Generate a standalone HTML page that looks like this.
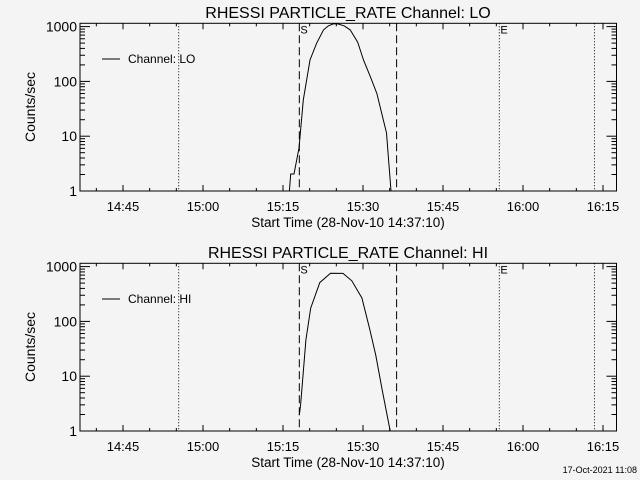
<!DOCTYPE html>
<html><head><meta charset="utf-8"><style>
body{margin:0;background:#f4f4f4;}
svg{display:block;font-family:"Liberation Sans",sans-serif;}
</style></head><body>
<svg id="c" width="640" height="480" xmlns="http://www.w3.org/2000/svg">
<rect width="640" height="480" fill="#f4f4f4"/>
<text x="637" y="473" font-size="9" text-anchor="end">17-Oct-2021 11:08</text>
</svg>
<script>
// minutes relative to 15:00
const xTickMinutes = [-15, 0, 15, 30, 45, 60, 75];
const xTickLabels = ["14:45", "15:00", "15:15", "15:30", "15:45", "16:00", "16:15"];
const yTickValues = [1, 10, 100, 1000];
const yTickLabels = ["1", "10", "100", "1000"];
const dottedMinutes = [-4.56, 55.56, 73.4];
const dashedMinutes = [18.06, 36.3];
const loTimes = [16.2, 16.45, 17.06, 18.0, 18.8, 20.06, 21.3, 22.6, 23.5, 24.4, 25.3, 26.5, 27.6, 29.0, 30.1, 31.4, 32.6, 34.4, 35.25];
const loValues = [1, 2.04, 2.04, 6.1, 46, 246, 495, 870, 1030, 1120, 1120, 1030, 870, 520, 246, 120, 60, 11.5, 1];
const hiTimes = [18.06, 18.3, 19.3, 20.2, 21.9, 23.9, 26.25, 27.9, 29.8, 31.3, 32.4, 33.6, 35.1];
const hiValues = [1.95, 3.0, 46, 175, 510, 755, 750, 550, 267, 70, 24, 5.6, 1];

const svg = document.getElementById('c');
const NS = 'http://www.w3.org/2000/svg';
const X0 = 80, X1 = 616.5;
function xs(m){ return 203 + m * 5.3333; }
function mk(tag, attrs, parent){
  const e = document.createElementNS(NS, tag);
  for (const k in attrs) e.setAttribute(k, attrs[k]);
  (parent || svg).appendChild(e);
  return e;
}
function panel(off, chan, times, values, nm){
  const top = 23.3 + off, bot = 191 + off;
  const ys = v => bot - Math.log10(v) * 54.8;
  const g = mk('g', {});
  
  
  const t = mk('text', {x: 348, y: 18 + off, 'font-size': 16, 'text-anchor': 'middle'}, g);
  t.textContent = 'RHESSI PARTICLE_RATE Channel: ' + chan;
  
  
  const fr = mk('rect', {x: X0, y: top, width: X1 - X0, height: bot - top, fill: 'none', stroke: '#000', 'stroke-width': 1}, g);
  
  
  for (let m = -20; m <= 75; m += 5){
    const x = xs(m); if (x < X0 || x > X1) continue;
    const major = m % 15 === 0, L = major ? 6 : 3;
    const a = mk('line', {x1: x, x2: x, y1: bot, y2: bot - L, stroke: '#000'}, g);
    
    
    const b = mk('line', {x1: x, x2: x, y1: top, y2: top + L, stroke: '#000'}, g);
    
    
  }
  xTickMinutes.forEach((m, i) => {
    const l = mk('text', {x: xs(m), y: 211 + off, 'font-size': 13, 'text-anchor': 'middle'}, g);
    l.textContent = xTickLabels[i];
    
    
  });
  const xt = mk('text', {x: 348, y: 227 + off, 'font-size': 13.5, 'text-anchor': 'middle'}, g);
  xt.textContent = 'Start Time (28-Nov-10 14:37:10)';
  
  
  for (let d = 1; d <= 1000; d *= 10){
    for (let k = 1; k <= 9; k++){
      const v = d * k, y = ys(v); if (y < top) continue;
      const L = k === 1 ? 10 : 5;
      const a = mk('line', {x1: X0, x2: X0 + L, y1: y, y2: y, stroke: '#000'}, g);
      
      
      const b = mk('line', {x1: X1, x2: X1 - L, y1: y, y2: y, stroke: '#000'}, g);
      
      
    }
  }
  yTickValues.forEach((v, i) => {
    const l = mk('text', {x: 77, y: ys(v) + 5, 'font-size': 14, 'text-anchor': 'end'}, g);
    l.textContent = yTickLabels[i];
    
    
  });
  const yt = mk('text', {x: 0, y: 0, 'font-size': 14, 'text-anchor': 'middle', transform: 'translate(35,' + (107 + off) + ') rotate(-90)'}, g);
  yt.textContent = 'Counts/sec';
  
  
  dottedMinutes.forEach(m => {
    const l = mk('line', {x1: xs(m), x2: xs(m), y1: top, y2: bot, stroke: '#000', 'stroke-dasharray': '1,2'}, g);
    
    
  });
  dashedMinutes.forEach(m => {
    const l = mk('line', {x1: xs(m), x2: xs(m), y1: top, y2: bot, stroke: '#000', 'stroke-dasharray': '8,4'}, g);
    
    
  });
  const s = mk('text', {x: xs(dashedMinutes[0]) + 1, y: top + 10, 'font-size': 11}, g);
  s.textContent = 'S';
  
  
  const e = mk('text', {x: xs(dottedMinutes[1]) + 1, y: top + 10, 'font-size': 11}, g);
  e.textContent = 'E';
  
  
  const pts = times.map((m, i) => xs(m).toFixed(1) + ',' + Math.max(top, ys(values[i])).toFixed(1)).join(' ');
  const pl = mk('polyline', {points: pts, fill: 'none', stroke: '#000', 'stroke-width': 1}, g);
  
  
  const ll = mk('line', {x1: 102, x2: 120, y1: 59 + off, y2: 59 + off, stroke: '#000'}, g);
  
  
  const lt = mk('text', {x: 128, y: 63 + off, 'font-size': 12}, g);
  lt.textContent = 'Channel: ' + chan;
  
  
}
panel(0, 'LO', loTimes, loValues, 'lo');
panel(240, 'HI', hiTimes, hiValues, 'hi');
</script>
</body></html>
